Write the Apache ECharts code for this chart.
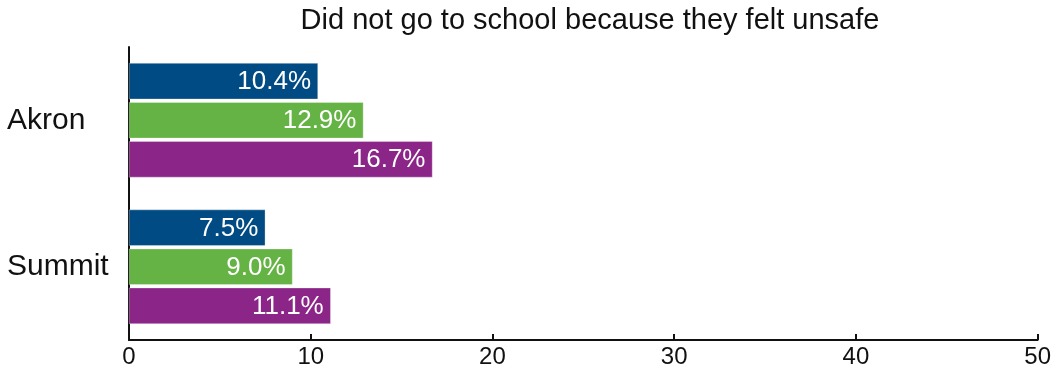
<!DOCTYPE html>
<html><head><meta charset="utf-8">
<script src="https://cdn.jsdelivr.net/npm/echarts@6/dist/echarts.min.js"></script>
<style>html,body{margin:0;padding:0;background:#fff}#c{width:1054px;height:373px}</style>
</head><body><div id="c"></div>
<script>
const categories = ['Akron', 'Summit'];
const seriesA = [10.4, 7.5];
const seriesB = [12.9, 9.0];
const seriesC = [16.7, 11.1];
const xTicks = [0, 10, 20, 30, 40, 50];
const colors = ['#004b83', '#66b345', '#8b2587'];
const font = 'Liberation Sans, Arial, sans-serif';
const chart = echarts.init(document.getElementById('c'));
function mk(data, i) {
  return {
    type: 'bar', data: data, barGap: '8%', barCategoryGap: '22%',
    itemStyle: { color: colors[i], borderColor: 'rgba(255,255,255,0.6)', borderWidth: 0.5 },
    label: { show: true, position: 'insideRight', color: '#fff', fontSize: 26, fontFamily: font,
      offset: [-2, 1], formatter: p => p.value.toFixed(1) + '%' },
    emphasis: { disabled: true }, animation: false
  };
}
chart.setOption({
  animation: false,
  title: { text: 'Did not go to school because they felt unsafe', left: 585, textAlign: 'center', top: 1,
    textStyle: { fontFamily: font, fontWeight: 'normal', fontSize: 29, color: '#111' } },
  grid: { left: 129, right: 15, top: 47, bottom: 33, containLabel: false },
  xAxis: { type: 'value', min: 0, max: 50, interval: 10,
    axisLine: { show: true, lineStyle: { color: '#111', width: 2 } },
    axisTick: { show: true, inside: true, length: 6, lineStyle: { color: '#111', width: 2 } },
    splitLine: { show: false },
    axisLabel: { fontFamily: font, fontSize: 24, color: '#111', margin: 5,
      formatter: v => xTicks.includes(v) ? String(v) : '' } },
  yAxis: { type: 'category', data: categories, inverse: true,
    axisLine: { show: true, lineStyle: { color: '#111', width: 2 } },
    axisTick: { show: false },
    axisLabel: { fontFamily: font, fontSize: 30, color: '#111', margin: 122, align: 'left', padding: [6, 0, 0, 0] } },
  series: [mk(seriesA, 0), mk(seriesB, 1), mk(seriesC, 2)]
});
</script></body></html>
